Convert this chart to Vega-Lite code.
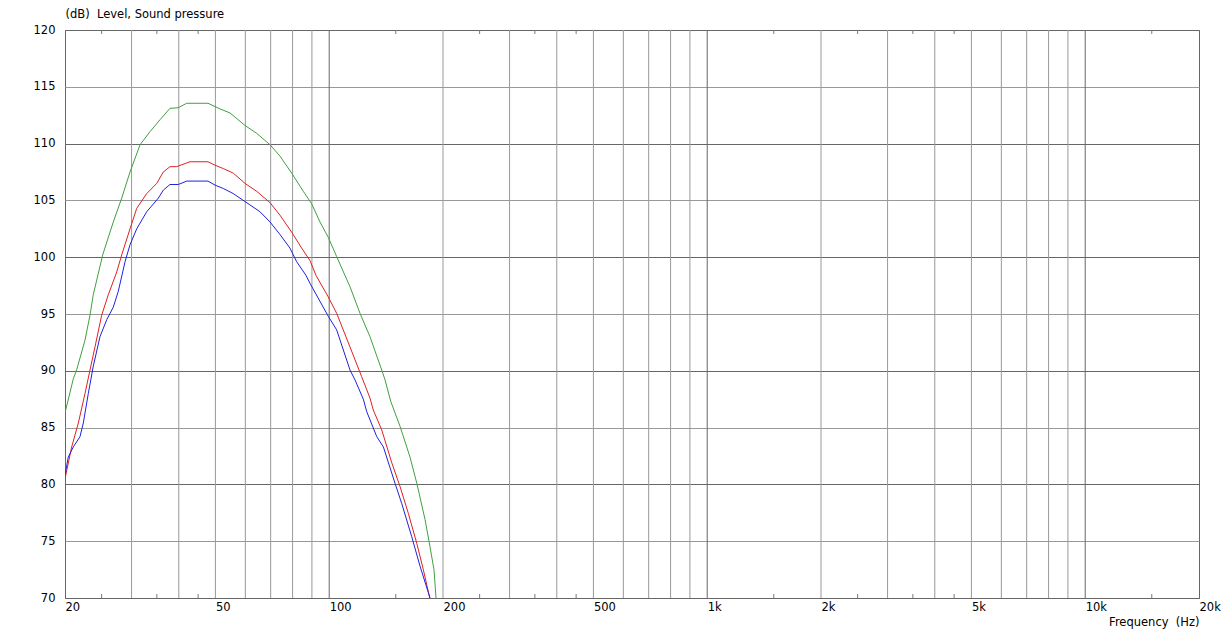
{
  "$schema": "https://vega.github.io/schema/vega-lite/v6.json",
  "width": 1134,
  "height": 568,
  "autosize": {"type": "none"},
  "padding": {"left": 65, "top": 30, "right": 23, "bottom": 34},
  "background": "#ffffff",
  "config": {
    "view": {"stroke": "#666666", "strokeWidth": 1},
    "font": "DejaVu Sans"
  },
  "datasets": {
    "curves": [
      {"series": "green", "f": 20, "db": 86.3},
      {"series": "green", "f": 21.04, "db": 89.3},
      {"series": "green", "f": 21.48, "db": 90.1},
      {"series": "green", "f": 22.59, "db": 92.7},
      {"series": "green", "f": 23.29, "db": 94.9},
      {"series": "green", "f": 23.76, "db": 96.7},
      {"series": "green", "f": 25.16, "db": 100.2},
      {"series": "green", "f": 26.84, "db": 103.1},
      {"series": "green", "f": 28.25, "db": 105.2},
      {"series": "green", "f": 29.72, "db": 107.5},
      {"series": "green", "f": 31.59, "db": 109.9},
      {"series": "green", "f": 33.57, "db": 111.05},
      {"series": "green", "f": 35.68, "db": 112.1},
      {"series": "green", "f": 37.91, "db": 113.1},
      {"series": "green", "f": 39.88, "db": 113.16},
      {"series": "green", "f": 41.98, "db": 113.55},
      {"series": "green", "f": 47.79, "db": 113.55},
      {"series": "green", "f": 51.42, "db": 113.05},
      {"series": "green", "f": 54.64, "db": 112.7},
      {"series": "green", "f": 59.87, "db": 111.6},
      {"series": "green", "f": 64.31, "db": 110.9},
      {"series": "green", "f": 69.72, "db": 109.9},
      {"series": "green", "f": 74.09, "db": 108.9},
      {"series": "green", "f": 79.56, "db": 107.4},
      {"series": "green", "f": 85.39, "db": 105.8},
      {"series": "green", "f": 89.87, "db": 104.7},
      {"series": "green", "f": 94.54, "db": 103.1},
      {"series": "green", "f": 99.43, "db": 101.75},
      {"series": "green", "f": 104.65, "db": 100.05},
      {"series": "green", "f": 113.5, "db": 97.4},
      {"series": "green", "f": 120.65, "db": 95.06},
      {"series": "green", "f": 128.2, "db": 93.0},
      {"series": "green", "f": 137.7, "db": 90.07},
      {"series": "green", "f": 140.5, "db": 89.2},
      {"series": "green", "f": 145.5, "db": 87.3},
      {"series": "green", "f": 154.0, "db": 85.1},
      {"series": "green", "f": 163.6, "db": 82.4},
      {"series": "green", "f": 170.5, "db": 80.1},
      {"series": "green", "f": 179.3, "db": 76.9},
      {"series": "green", "f": 184.8, "db": 74.5},
      {"series": "green", "f": 189.3, "db": 72.5},
      {"series": "green", "f": 191.7, "db": 70.0},
      {"series": "red", "f": 20, "db": 80.5},
      {"series": "red", "f": 20.83, "db": 83.3},
      {"series": "red", "f": 21.69, "db": 85.4},
      {"series": "red", "f": 22.59, "db": 88.0},
      {"series": "red", "f": 23.29, "db": 90.07},
      {"series": "red", "f": 24.01, "db": 92.1},
      {"series": "red", "f": 25.01, "db": 94.9},
      {"series": "red", "f": 26.04, "db": 96.7},
      {"series": "red", "f": 27.41, "db": 98.7},
      {"series": "red", "f": 28.25, "db": 100.2},
      {"series": "red", "f": 29.72, "db": 102.5},
      {"series": "red", "f": 30.96, "db": 104.3},
      {"series": "red", "f": 32.9, "db": 105.6},
      {"series": "red", "f": 34.97, "db": 106.5},
      {"series": "red", "f": 36.4, "db": 107.5},
      {"series": "red", "f": 37.91, "db": 107.97},
      {"series": "red", "f": 39.49, "db": 107.97},
      {"series": "red", "f": 41.98, "db": 108.3},
      {"series": "red", "f": 42.83, "db": 108.4},
      {"series": "red", "f": 47.79, "db": 108.4},
      {"series": "red", "f": 49.87, "db": 108.1},
      {"series": "red", "f": 52.46, "db": 107.8},
      {"series": "red", "f": 55.75, "db": 107.4},
      {"series": "red", "f": 59.87, "db": 106.5},
      {"series": "red", "f": 64.31, "db": 105.8},
      {"series": "red", "f": 69.72, "db": 104.8},
      {"series": "red", "f": 74.09, "db": 103.7},
      {"series": "red", "f": 79.56, "db": 102.2},
      {"series": "red", "f": 84.56, "db": 100.8},
      {"series": "red", "f": 88.95, "db": 99.7},
      {"series": "red", "f": 92.26, "db": 98.4},
      {"series": "red", "f": 99.43, "db": 96.5},
      {"series": "red", "f": 104.65, "db": 95.06},
      {"series": "red", "f": 113.5, "db": 92.1},
      {"series": "red", "f": 121.8, "db": 89.5},
      {"series": "red", "f": 128.2, "db": 87.6},
      {"series": "red", "f": 130.8, "db": 86.55},
      {"series": "red", "f": 137.7, "db": 84.8},
      {"series": "red", "f": 146.4, "db": 81.9},
      {"series": "red", "f": 154.0, "db": 79.8},
      {"series": "red", "f": 161.95, "db": 77.45},
      {"series": "red", "f": 170.5, "db": 74.8},
      {"series": "red", "f": 177.4, "db": 72.5},
      {"series": "red", "f": 184.5, "db": 70.0},
      {"series": "blue", "f": 20, "db": 80.8},
      {"series": "blue", "f": 20.4, "db": 82.4},
      {"series": "blue", "f": 21.04, "db": 83.3},
      {"series": "blue", "f": 21.91, "db": 84.2},
      {"series": "blue", "f": 22.36, "db": 85.4},
      {"series": "blue", "f": 23.05, "db": 88.0},
      {"series": "blue", "f": 23.76, "db": 90.4},
      {"series": "blue", "f": 24.75, "db": 93.0},
      {"series": "blue", "f": 25.79, "db": 94.5},
      {"series": "blue", "f": 26.84, "db": 95.6},
      {"series": "blue", "f": 27.67, "db": 97.0},
      {"series": "blue", "f": 28.83, "db": 99.6},
      {"series": "blue", "f": 29.72, "db": 101.1},
      {"series": "blue", "f": 30.96, "db": 102.5},
      {"series": "blue", "f": 32.9, "db": 104.0},
      {"series": "blue", "f": 35.31, "db": 105.2},
      {"series": "blue", "f": 36.4, "db": 105.9},
      {"series": "blue", "f": 37.91, "db": 106.4},
      {"series": "blue", "f": 39.88, "db": 106.4},
      {"series": "blue", "f": 41.98, "db": 106.7},
      {"series": "blue", "f": 47.79, "db": 106.7},
      {"series": "blue", "f": 49.87, "db": 106.35},
      {"series": "blue", "f": 52.46, "db": 106.05},
      {"series": "blue", "f": 55.75, "db": 105.6},
      {"series": "blue", "f": 59.87, "db": 104.9},
      {"series": "blue", "f": 65.61, "db": 104.0},
      {"series": "blue", "f": 69.72, "db": 103.1},
      {"series": "blue", "f": 74.09, "db": 102.0},
      {"series": "blue", "f": 78.74, "db": 100.8},
      {"series": "blue", "f": 82.02, "db": 99.6},
      {"series": "blue", "f": 86.81, "db": 98.4},
      {"series": "blue", "f": 88.95, "db": 97.7},
      {"series": "blue", "f": 99.43, "db": 94.8},
      {"series": "blue", "f": 104.65, "db": 93.6},
      {"series": "blue", "f": 113.5, "db": 90.07},
      {"series": "blue", "f": 117.0, "db": 89.2},
      {"series": "blue", "f": 123.1, "db": 87.5},
      {"series": "blue", "f": 125.7, "db": 86.4},
      {"series": "blue", "f": 133.6, "db": 84.2},
      {"series": "blue", "f": 139.1, "db": 83.3},
      {"series": "blue", "f": 149.3, "db": 80.1},
      {"series": "blue", "f": 155.6, "db": 78.3},
      {"series": "blue", "f": 165.3, "db": 75.4},
      {"series": "blue", "f": 173.9, "db": 72.8},
      {"series": "blue", "f": 184.8, "db": 70.0}
    ],
    "vgrid": [
      {"f": 30}, {"f": 40}, {"f": 50}, {"f": 60}, {"f": 70}, {"f": 80}, {"f": 90}, {"f": 100},
      {"f": 200}, {"f": 300}, {"f": 400}, {"f": 500}, {"f": 600}, {"f": 700}, {"f": 800}, {"f": 900}, {"f": 1000},
      {"f": 2000}, {"f": 3000}, {"f": 4000}, {"f": 5000}, {"f": 6000}, {"f": 7000}, {"f": 8000}, {"f": 9000}, {"f": 10000}
    ],
    "minor": [
      {"f": 25}, {"f": 35}, {"f": 45}, {"f": 150}, {"f": 250}, {"f": 350}, {"f": 450},
      {"f": 1500}, {"f": 2500}, {"f": 3500}, {"f": 4500}, {"f": 15000}
    ]
  },
  "layer": [
    {
      "data": {"name": "vgrid"},
      "mark": {"type": "rule", "strokeWidth": 1},
      "encoding": {
        "x": {
          "field": "f", "type": "quantitative",
          "scale": {"type": "log", "domain": [20, 20000], "nice": false},
          "axis": {
            "values": [20, 50, 100, 200, 500, 1000, 2000, 5000, 10000, 20000],
            "labelExpr": "datum.value >= 1000 ? (datum.value / 1000) + 'k' : '' + datum.value",
            "grid": false, "ticks": false, "domain": false,
            "labelAlign": "left", "labelBaseline": "top", "labelPadding": 3,
            "labelFlush": false, "labelOverlap": false,
            "labelFont": "DejaVu Sans", "labelFontSize": 11.5, "labelColor": "#000000",
            "title": "Frequency\u00a0 (Hz)",
            "titleFont": "DejaVu Sans", "titleFontSize": 11.5, "titleFontWeight": "normal", "titleColor": "#000000",
            "titleAnchor": "end", "titleAlign": "right", "titleX": 1134, "titleY": 27, "titleBaseline": "alphabetic"
          }
        },
        "color": {
          "condition": {"test": "datum.f === 100 || datum.f === 1000 || datum.f === 10000", "value": "#666666"},
          "value": "#999999"
        }
      }
    },
    {
      "data": {"name": "minor"},
      "mark": {"type": "rule", "strokeWidth": 1, "color": "#777777"},
      "encoding": {
        "x": {"field": "f", "type": "quantitative"},
        "y": {"datum": 70},
        "y2": {"datum": 70.35}
      }
    },
    {
      "data": {"name": "minor"},
      "mark": {"type": "rule", "strokeWidth": 1, "color": "#777777"},
      "encoding": {
        "x": {"field": "f", "type": "quantitative"},
        "y": {"datum": 120},
        "y2": {"datum": 119.65}
      }
    },
    {
      "data": {"name": "curves"},
      "mark": {"type": "line", "strokeWidth": 1, "clip": true, "interpolate": "linear"},
      "encoding": {
        "x": {"field": "f", "type": "quantitative"},
        "y": {
          "field": "db", "type": "quantitative",
          "scale": {"domain": [70, 120], "nice": false, "zero": false},
          "axis": {
            "values": [70, 75, 80, 85, 90, 95, 100, 105, 110, 115, 120],
            "grid": true,
            "gridColor": {"condition": {"test": "datum.value % 10 === 0", "value": "#666666"}, "value": "#999999"},
            "gridWidth": 1, "gridOpacity": 1,
            "ticks": false, "domain": false,
            "labelAlign": "right", "labelBaseline": "middle", "labelPadding": 10,
            "labelFont": "DejaVu Sans", "labelFontSize": 11.5, "labelColor": "#000000",
            "title": "(dB)\u00a0 Level, Sound pressure",
            "titleFont": "DejaVu Sans", "titleFontSize": 11.5, "titleFontWeight": "normal", "titleColor": "#000000",
            "titleAngle": 0, "titleAlign": "left", "titleX": 0, "titleY": -13, "titleBaseline": "alphabetic"
          }
        },
        "color": {
          "field": "series", "type": "nominal",
          "scale": {"domain": ["green", "red", "blue"], "range": ["#3fa03f", "#e02020", "#2020e0"]},
          "legend": null
        },
        "order": {"field": "f", "type": "quantitative"}
      }
    }
  ]
}
